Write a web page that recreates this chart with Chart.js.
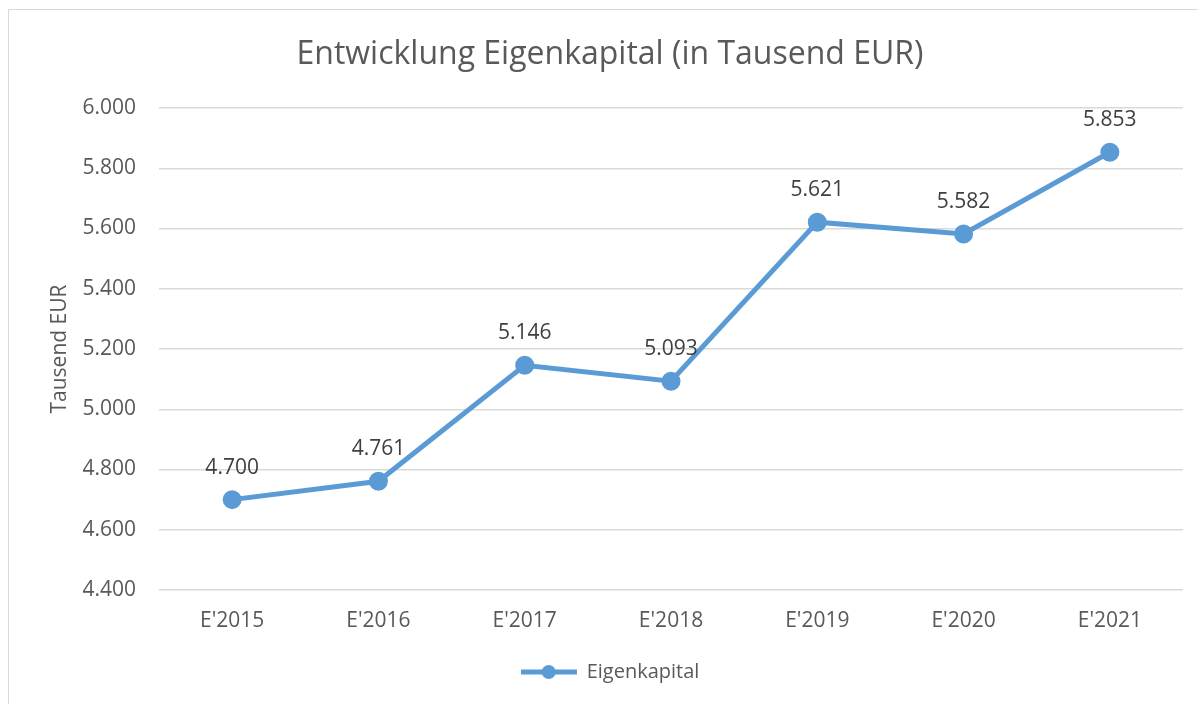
<!DOCTYPE html>
<html>
<head>
<meta charset="utf-8">
<script src="https://cdn.jsdelivr.net/npm/chart.js@4"></script>
<style>
  body { margin: 0; background: #fff; }
  #frame { position: absolute; left: 8px; top: 9px; width: 1400px; height: 900px; border: 1px solid #d9d9d9; }
  #wrap { position: absolute; left: 0; top: 0; width: 1198px; height: 704px; }
</style>
</head>
<body>
<div id="frame"></div>
<div id="wrap"><canvas id="chart" width="1198" height="704"></canvas></div>
<script>
const years = ["E'2015", "E'2016", "E'2017", "E'2018", "E'2019", "E'2020", "E'2021"];
const equity = [4700, 4761, 5146, 5093, 5621, 5582, 5853];
const yTicks = [4400, 4600, 4800, 5000, 5200, 5400, 5600, 5800, 6000];

const blue = "#5B9BD5";
const grey = "#595959";
const fontFamily = "'Open Sans', 'Noto Sans', sans-serif";

// German thousands separator
function fmt(n) {
  return String(Math.round(n)).replace(/\B(?=(\d{3})+(?!\d))/g, ".");
}

// legend symbol: line with a circle in the middle
function legendSymbol() {
  const c = document.createElement("canvas");
  c.width = 56;
  c.height = 16;
  const ctx = c.getContext("2d");
  ctx.strokeStyle = blue;
  ctx.lineWidth = 5;
  ctx.beginPath();
  ctx.moveTo(0, 8);
  ctx.lineTo(56, 8);
  ctx.stroke();
  ctx.fillStyle = blue;
  ctx.beginPath();
  ctx.arc(28, 8, 7, 0, Math.PI * 2);
  ctx.fill();
  return c;
}

// value labels above the points
const valueLabels = {
  id: "valueLabels",
  afterDatasetsDraw(chart) {
    const ctx = chart.ctx;
    const meta = chart.getDatasetMeta(0);
    ctx.save();
    ctx.font = "21px " + fontFamily;
    ctx.fillStyle = "#404040";
    ctx.textAlign = "center";
    ctx.textBaseline = "middle";
    meta.data.forEach((pt, i) => {
      ctx.fillText(fmt(equity[i]), pt.x, pt.y - 32);
    });
    ctx.restore();
  }
};

new Chart(document.getElementById("chart"), {
  type: "line",
  data: {
    labels: years,
    datasets: [{
      label: "Eigenkapital",
      data: equity,
      borderColor: blue,
      backgroundColor: blue,
      borderWidth: 5,
      pointRadius: 7,
      pointStyle: "circle",
      pointBackgroundColor: blue,
      pointBorderColor: blue,
      tension: 0
    }]
  },
  options: {
    responsive: false,
    animation: false,
    layout: { padding: { left: 37, right: 15, top: 0, bottom: 12 } },
    plugins: {
      tooltip: { enabled: false },
      title: {
        display: true,
        text: "Entwicklung Eigenkapital (in Tausend EUR)",
        color: grey,
        font: { family: fontFamily, size: 32, weight: "normal" },
        padding: { top: 36, bottom: 33.6 }
      },
      legend: {
        position: "bottom",
        labels: {
          usePointStyle: true,
          pointStyleWidth: 56,
          color: grey,
          font: { family: fontFamily, size: 20 },
          padding: 20,
          generateLabels: chart => [{
            text: "Eigenkapital",
            pointStyle: legendSymbol(),
            fillStyle: blue,
            strokeStyle: blue,
            lineWidth: 0,
            fontColor: grey,
            datasetIndex: 0
          }]
        }
      }
    },
    scales: {
      x: {
        offset: true,
        grid: { display: false, drawTicks: false },
        border: { display: false },
        ticks: { color: grey, font: { family: fontFamily, size: 21 }, padding: 18 },
        afterFit: s => { s.height = 52; }
      },
      y: {
        min: 4400,
        max: 6000,
        afterBuildTicks: s => { s.ticks = yTicks.map(v => ({ value: v })); },
        grid: { color: "#d9d9d9", lineWidth: 1.5, drawTicks: false },
        border: { display: false },
        ticks: {
          color: grey,
          font: { family: fontFamily, size: 21 },
          padding: 23,
          callback: v => fmt(v)
        },
        title: {
          display: true,
          text: "Tausend EUR",
          color: grey,
          font: { family: fontFamily, size: 21 },
          padding: { top: 10, bottom: 0 }
        },
        afterFit: s => { s.width = 122; }
      }
    }
  },
  plugins: [valueLabels]
});
</script>
</body>
</html>
